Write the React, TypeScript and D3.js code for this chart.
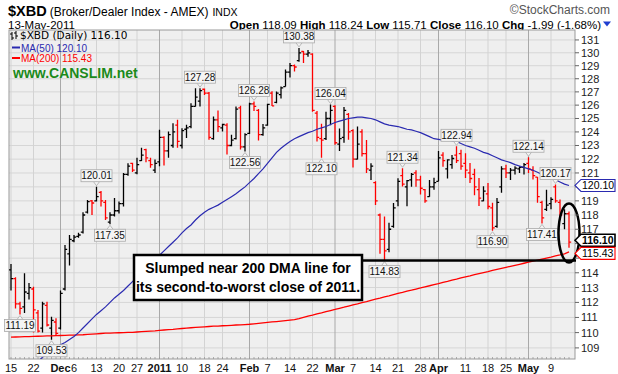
import React from 'react';
import * as d3 from 'd3';

// trading days shown on the chart
const dates = [
  '2010-11-15', '2010-11-16', '2010-11-17', '2010-11-18', '2010-11-19', '2010-11-22', '2010-11-23', '2010-11-24', '2010-11-26', '2010-11-29', '2010-11-30',
  '2010-12-01', '2010-12-02', '2010-12-03', '2010-12-06', '2010-12-07', '2010-12-08', '2010-12-09', '2010-12-10', '2010-12-13', '2010-12-14', '2010-12-15',
  '2010-12-16', '2010-12-17', '2010-12-20', '2010-12-21', '2010-12-22', '2010-12-23', '2010-12-27', '2010-12-28', '2010-12-29', '2010-12-30', '2010-12-31',
  '2011-01-03', '2011-01-04', '2011-01-05', '2011-01-06', '2011-01-07', '2011-01-10', '2011-01-11', '2011-01-12', '2011-01-13', '2011-01-14',
  '2011-01-18', '2011-01-19', '2011-01-20', '2011-01-21', '2011-01-24', '2011-01-25', '2011-01-26', '2011-01-27', '2011-01-28', '2011-01-31',
  '2011-02-01', '2011-02-02', '2011-02-03', '2011-02-04', '2011-02-07', '2011-02-08', '2011-02-09', '2011-02-10', '2011-02-11', '2011-02-14',
  '2011-02-15', '2011-02-16', '2011-02-17', '2011-02-18', '2011-02-22', '2011-02-23', '2011-02-24', '2011-02-25', '2011-02-28',
  '2011-03-01', '2011-03-02', '2011-03-03', '2011-03-04', '2011-03-07', '2011-03-08', '2011-03-09', '2011-03-10', '2011-03-11', '2011-03-14',
  '2011-03-15', '2011-03-16', '2011-03-17', '2011-03-18', '2011-03-21', '2011-03-22', '2011-03-23', '2011-03-24', '2011-03-25', '2011-03-28',
  '2011-03-29', '2011-03-30', '2011-03-31',
  '2011-04-01', '2011-04-04', '2011-04-05', '2011-04-06', '2011-04-07', '2011-04-08', '2011-04-11', '2011-04-12', '2011-04-13', '2011-04-14',
  '2011-04-15', '2011-04-18', '2011-04-19', '2011-04-20', '2011-04-21', '2011-04-25', '2011-04-26', '2011-04-27', '2011-04-28', '2011-04-29',
  '2011-05-02', '2011-05-03', '2011-05-04', '2011-05-05', '2011-05-06', '2011-05-09', '2011-05-10', '2011-05-11', '2011-05-12', '2011-05-13',
];

const opens = [
  114.2, 113.6, 111.9, 111.7, 112.6, 112.9, 111.3, 110.3, 111.8, 110.3, 110.7,
  110.3, 112.9, 115.3, 116.2, 116.5, 116.8, 118.2, 119.0, 119.0, 119.6, 118.9,
  117.5, 118.0, 118.3, 118.8, 120.9, 121.7, 121.0, 121.9, 122.7, 121.9, 121.2,
  121.8, 123.6, 122.6, 123.0, 124.5, 123.0, 124.2, 124.4, 125.9, 126.3,
  127.2, 126.9, 123.5, 124.9, 124.3, 124.5, 123.0, 123.5, 125.8, 122.9,
  123.9, 126.1, 125.6, 123.8, 124.5, 126.9, 126.2, 126.8, 127.4, 128.5,
  129.0, 129.4, 130.1, 129.9, 129.9, 125.4, 123.5, 123.5, 125.0,
  125.9, 123.1, 123.6, 125.3, 124.1, 122.0, 124.0, 122.4, 121.2, 120.3,
  118.0, 116.3, 115.6, 117.2, 119.0, 120.8, 120.0, 120.5, 121.0, 120.5,
  119.8, 119.3, 120.0,
  120.4, 122.3, 121.3, 121.6, 122.3, 122.4, 121.7, 121.0, 120.9, 119.8,
  119.0, 119.5, 118.5, 117.2, 120.0, 121.3, 121.0, 121.2, 121.3, 121.4,
  121.7, 121.2, 120.7, 118.9, 118.4, 118.8, 120.0, 118.9, 117.4, 118.09,
];

const highs = [
  114.6, 113.7, 112.05, 113.97, 113.3, 113.05, 111.5, 112.05, 112.05, 111.05, 110.95,
  112.8, 115.9, 116.6, 116.6, 116.75, 118.2, 119.07, 119.07, 120.01, 119.7, 119.07,
  118.2, 119.2, 118.96, 121.0, 121.7, 121.74, 122.1, 122.83, 122.76, 122.1, 121.98,
  124.16, 123.68, 124.04, 124.65, 124.9, 124.28, 124.53, 126.14, 127.27, 127.28,
  127.25, 127.0, 125.14, 125.6, 124.6, 124.65, 123.79, 125.89, 125.95, 123.9,
  126.18, 126.28, 125.7, 124.58, 126.1, 127.05, 127.02, 127.4, 128.7, 129.2,
  129.1, 130.38, 130.14, 130.22, 129.96, 125.56, 124.6, 125.5, 126.04,
  126.0, 124.25, 125.85, 125.4, 124.2, 124.4, 124.2, 123.4, 121.7, 120.4,
  118.1, 117.9, 117.45, 118.85, 120.61, 121.34, 120.49, 121.0, 121.2, 120.8,
  119.85, 120.5, 120.65,
  122.6, 122.5, 122.0, 122.3, 122.94, 122.68, 122.44, 121.72, 121.3, 120.64,
  120.05, 120.28, 118.86, 119.2, 121.48, 121.6, 121.36, 121.48, 121.48, 121.72,
  122.14, 121.48, 120.7, 119.0, 119.8, 119.25, 120.17, 119.1, 118.4, 118.24,
];

const lows = [
  112.8, 111.6, 111.19, 111.3, 112.2, 110.0, 110.0, 110.0, 110.4, 109.53, 109.85,
  110.2, 112.8, 114.5, 116.1, 116.4, 116.7, 118.1, 118.0, 118.96, 118.6, 117.65,
  117.35, 117.9, 118.1, 118.6, 120.8, 121.06, 120.9, 121.86, 121.78, 121.37, 121.0,
  121.49, 121.54, 122.1, 122.83, 122.83, 122.78, 123.55, 124.28, 125.89, 125.89,
  126.77, 123.43, 123.43, 124.0, 124.04, 122.34, 122.95, 123.44, 122.71, 122.56,
  123.85, 125.56, 123.36, 123.72, 124.46, 125.93, 126.14, 126.5, 127.4, 128.1,
  128.55, 129.3, 129.2, 129.7, 125.5, 123.3, 122.1, 123.4, 124.5,
  123.06, 122.6, 123.2, 123.42, 121.4, 121.97, 122.2, 121.0, 120.5, 118.7,
  115.3, 114.83, 115.4, 117.11, 118.61, 120.02, 118.61, 120.0, 120.0, 119.46,
  118.87, 119.3, 119.8,
  120.4, 121.45, 120.6, 121.3, 121.72, 121.24, 120.64, 120.28, 119.4, 118.63,
  118.98, 118.4, 116.9, 117.1, 119.57, 120.64, 120.5, 120.88, 121.0, 120.88,
  121.0, 120.52, 118.86, 117.41, 118.28, 118.4, 118.86, 117.93, 117.0, 115.71,
];

const closes = [
  113.6, 111.9, 111.6, 112.7, 113.0, 111.5, 110.1, 111.9, 110.5, 110.8, 109.95,
  112.6, 115.6, 116.3, 116.45, 116.6, 118.0, 118.95, 118.85, 119.3, 119.0, 117.8,
  118.0, 118.3, 118.8, 120.9, 121.5, 121.2, 121.6, 122.3, 122.1, 121.6, 121.7,
  123.6, 122.6, 123.8, 124.0, 123.3, 124.1, 124.3, 125.9, 126.6, 127.1,
  126.9, 123.6, 124.9, 124.4, 124.55, 123.0, 123.4, 125.7, 122.9, 123.8,
  126.1, 125.9, 123.8, 124.3, 126.05, 125.95, 126.9, 127.3, 128.5, 129.0,
  128.9, 130.0, 129.9, 130.0, 125.6, 123.6, 123.4, 125.0, 125.6,
  123.2, 123.5, 125.6, 124.0, 122.0, 123.1, 122.4, 121.3, 121.5, 119.0,
  116.3, 115.5, 117.0, 118.5, 120.4, 120.2, 120.45, 120.9, 120.5, 119.9,
  119.0, 120.0, 120.3,
  122.1, 121.9, 121.95, 122.05, 121.9, 121.5, 121.2, 120.6, 120.0, 119.2,
  119.7, 118.6, 117.1, 118.9, 121.3, 121.0, 121.2, 121.35, 121.4, 121.6,
  121.3, 120.8, 119.3, 117.8, 118.7, 119.1, 119.0, 118.0, 118.09, 116.10,
];

// moving averages (null where the line is below the plot)
const ma50 = [
  null, null, null, null, null, null, 108.1, 108.4, 108.6, 108.8, 109.0,
  109.2, 109.35, 109.55, 109.75, 110.0, 110.3, 110.6, 110.9, 111.2, 111.45, 111.7,
  112.0, 112.3, 112.55, 112.8, 113.1, 113.4, 113.7, 114.0, 114.3, 114.6, 114.9,
  115.2, 115.5, 115.8, 116.1, 116.4, 116.75, 117.05, 117.3, 117.65, 117.95,
  118.2, 118.4, 118.55, 118.7, 118.9, 119.1, 119.3, 119.5, 119.75, 120.0,
  120.3, 120.6, 120.95, 121.3, 121.7, 122.1, 122.5, 122.8, 123.05, 123.3,
  123.5, 123.65, 123.8, 123.95, 124.05, 124.2, 124.3, 124.4, 124.55,
  124.7, 124.8, 124.9, 125.0, 125.05, 125.1, 125.1, 125.05, 125.0, 124.9,
  124.75, 124.6, 124.5, 124.45, 124.4, 124.3, 124.2, 124.15, 124.05, 123.95,
  123.8, 123.65, 123.5,
  123.45, 123.4, 123.4, 123.35, 123.3, 123.15, 123.0, 122.9, 122.8, 122.65,
  122.5, 122.4, 122.25, 122.1, 121.95, 121.85, 121.75, 121.6, 121.5, 121.4,
  121.3, 121.2, 121.05, 120.9, 120.75, 120.65, 120.5, 120.35, 120.2, 120.1,
];

const ma200 = [
  109.70, 109.71, 109.72, 109.73, 109.74, 109.75, 109.76, 109.77, 109.78, 109.79, 109.80,
  109.81, 109.82, 109.83, 109.84, 109.85, 109.86, 109.88, 109.90, 109.92, 109.94, 109.96,
  109.97, 109.98, 109.99, 110.00, 110.01, 110.02, 110.04, 110.06, 110.08, 110.10, 110.12,
  110.15, 110.17, 110.19, 110.21, 110.24, 110.27, 110.30, 110.32, 110.34, 110.36,
  110.38, 110.40, 110.42, 110.43, 110.45, 110.46, 110.48, 110.50, 110.51, 110.53,
  110.55, 110.58, 110.61, 110.64, 110.67, 110.70, 110.73, 110.76, 110.79, 110.82,
  110.85, 110.92, 111.00, 111.08, 111.15, 111.23, 111.30, 111.38, 111.46,
  111.53, 111.61, 111.68, 111.76, 111.84, 111.91, 111.99, 112.06, 112.14, 112.22,
  112.29, 112.37, 112.44, 112.52, 112.60, 112.67, 112.75, 112.82, 112.90, 112.97,
  113.05, 113.12, 113.20,
  113.27, 113.35, 113.42, 113.50, 113.57, 113.65, 113.72, 113.79, 113.87, 113.94,
  114.01, 114.08, 114.16, 114.23, 114.30, 114.37, 114.44, 114.51, 114.58, 114.65,
  114.72, 114.79, 114.86, 114.93, 115.00, 115.07, 115.15, 115.22, 115.30, 115.43,
];

const xTickDates = [
  '2010-11-15', '2010-11-22', '2010-12-01', '2010-12-06', '2010-12-13', '2010-12-20', '2010-12-27',
  '2011-01-03', '2011-01-10', '2011-01-18', '2011-01-24', '2011-02-01', '2011-02-07', '2011-02-14',
  '2011-02-22', '2011-03-01', '2011-03-07', '2011-03-14', '2011-03-21', '2011-03-28', '2011-04-01',
  '2011-04-11', '2011-04-18', '2011-04-25', '2011-05-02', '2011-05-09',
];
const xTickLabels = [
  '15', '22', 'Dec', '6', '13', '20', '27', '2011', '10', '18', '24', 'Feb', '7', '14',
  '22', 'Mar', '7', '14', '21', '28', 'Apr', '11', '18', '25', 'May', '9',
];
const monthLabels = ['Dec', '2011', 'Feb', 'Mar', 'Apr', 'May'];

const yTicks = [109, 110, 111, 112, 113, 114, 115, 116, 117, 118, 119, 120, 121, 122, 123, 124, 125, 126, 127, 128, 129, 130, 131];
// labels hidden behind the value tags on the right
const coveredTicks = [115, 116, 120];

const highMarkDates = ['2010-12-13', '2011-01-14', '2011-02-02', '2011-02-16', '2011-02-28', '2011-03-22', '2011-04-07', '2011-05-02', '2011-05-10'];
const highMarkValues = [120.01, 127.28, 126.28, 130.38, 126.04, 121.34, 122.94, 122.14, 120.17];
const lowMarkDates = ['2010-11-17', '2010-11-29', '2010-12-16', '2011-01-31', '2011-02-24', '2011-03-16', '2011-04-19', '2011-05-05'];
const lowMarkValues = [111.19, 109.53, 117.35, 122.56, 122.10, 114.83, 116.90, 117.41];

const plot = { l: 9, r: 575, t: 30, b: 359 };
const SANS = '"Liberation Sans", Arial, sans-serif';
const VERD = '"DejaVu Sans", Verdana, sans-serif';

const x = d3.scalePoint<string>().domain(dates).range([11, 569]);
const y = d3.scaleLog().domain([108.28, 131.78]).range([plot.b, plot.t]);

const PriceMark = ({ date, value, above }: { date: string; value: number; above: boolean }) => {
  const cx = x(date) as number;
  const text = value.toFixed(2);
  const w = 31;
  const h = 12;
  const yv = y(value);
  const top = above ? yv - 5 - h : yv + 5;
  const tri = above
    ? `M${cx - 3},${top + h} L${cx},${yv - 1} L${cx + 3},${top + h}`
    : `M${cx - 3},${top} L${cx},${yv + 1} L${cx + 3},${top}`;
  return (
    <g>
      <path d={tri} fill="#f4f4f4" stroke="#aaa" strokeWidth={0.8} />
      <rect x={cx - w / 2} y={top} width={w} height={h} fill="#f4f4f4" stroke="#aaa" strokeWidth={0.8} />
      <text x={cx} y={top + h - 2.5} textAnchor="middle" fontFamily={SANS} fontSize={10} fill="#111">{text}</text>
    </g>
  );
};

const ValueTag = ({ value, yPos, stroke, bold }: { value: number; yPos: number; stroke: string; bold?: boolean }) => (
  <g>
    <path
      d={`M${plot.r},${yPos} L${plot.r + 6},${yPos - 6} L615,${yPos - 6} L615,${yPos + 6} L${plot.r + 6},${yPos + 6} Z`}
      fill="#fff" stroke={stroke} strokeWidth={bold ? 1.6 : 1.1}
    />
    <text x={plot.r + 7} y={yPos + 4} fontFamily={SANS} fontSize={10.5} fontWeight={bold ? 'bold' : 'normal'} fill="#000">
      {value.toFixed(2)}
    </text>
  </g>
);

export default function App() {
  const ma50Line = d3.line<number | null>()
    .defined(d => d !== null)
    .x((_, i) => x(dates[i]) as number)
    .y(d => y(d as number));
  const ma200Line = d3.line<number>()
    .x((_, i) => x(dates[i]) as number)
    .y(d => y(d));

  const tick = 2.2;
  const lowY = y(114.83);

  return (
    <svg width={618} height={374} style={{ position: 'fixed', left: 0, top: 0, background: '#fff' }}>
      <defs>
        <clipPath id="plotClip">
          <rect x={plot.l} y={plot.t} width={plot.r - plot.l} height={plot.b - plot.t} />
        </clipPath>
      </defs>

      {/* header */}
      <text x={8} y={16} fontFamily={SANS} fill="#000">
        <tspan fontSize={14.5} fontWeight="bold">$XBD</tspan>
        <tspan fontSize={12} dx={3}>(Broker/Dealer Index - AMEX)</tspan>
        <tspan fontSize={10.5} dx={4}>INDX</tspan>
      </text>
      <text x={610} y={14} textAnchor="end" fontFamily={SANS} fontSize={12} fill="#555">©StockCharts.com</text>
      <text x={8} y={28.5} fontFamily={SANS} fontSize={11.5} fill="#000">13-May-2011</text>
      <text x={601} y={28.5} textAnchor="end" fontFamily={SANS} fontSize={11.5} fill="#000">
        <tspan fontWeight="bold">Open</tspan><tspan> 118.09 </tspan>
        <tspan fontWeight="bold">High</tspan><tspan> 118.24 </tspan>
        <tspan fontWeight="bold">Low</tspan><tspan> 115.71 </tspan>
        <tspan fontWeight="bold">Close</tspan><tspan> 116.10 </tspan>
        <tspan fontWeight="bold">Chg</tspan><tspan> -1.99 (-1.68%)</tspan>
      </text>
      <path d="M603,21.5 L611,21.5 L607,26.5 Z" fill="#1f3fd0" />

      {/* plot background and grid */}
      <rect x={plot.l} y={plot.t} width={plot.r - plot.l} height={plot.b - plot.t} fill="#efefef" />
      {yTicks.map(v => (
        <line key={`gy${v}`} x1={plot.l} x2={plot.r} y1={y(v)} y2={y(v)} stroke="#d6d6d6" strokeWidth={1} />
      ))}
      {xTickDates.map((d, i) => (
        <line key={`gx${d}`} x1={x(d)} x2={x(d)} y1={plot.t} y2={plot.b}
          stroke={monthLabels.includes(xTickLabels[i]) ? '#a9a9a9' : '#d3d3d3'} strokeWidth={1} />
      ))}
      {dates.map(d => (
        <line key={`mt${d}`} x1={x(d)} x2={x(d)} y1={plot.b - 2} y2={plot.b} stroke="#9a9a9a" strokeWidth={0.8} />
      ))}
      <rect x={plot.l} y={plot.t} width={plot.r - plot.l} height={plot.b - plot.t} fill="none" stroke="#999" strokeWidth={1} />

      {/* OHLC bars */}
      <g clipPath="url(#plotClip)">
        {dates.map((d, i) => {
          const cx = x(d) as number;
          const up = i === 0 || closes[i] >= closes[i - 1];
          return (
            <path key={`b${d}`}
              d={`M${cx},${y(highs[i])} V${y(lows[i])} M${cx - tick},${y(opens[i])} H${cx} M${cx},${y(closes[i])} H${cx + tick}`}
              stroke={up ? '#000' : '#ff0000'} strokeWidth={1.3} fill="none" />
          );
        })}
        <path d={ma200Line(ma200) || ''} fill="none" stroke="#ff0000" strokeWidth={1.3} />
        <path d={ma50Line(ma50) || ''} fill="none" stroke="#2a2ab0" strokeWidth={1.2} />
      </g>

      {/* high / low marks */}
      {highMarkDates.map((d, i) => <PriceMark key={`h${d}`} date={d} value={highMarkValues[i]} above />)}
      {lowMarkDates.map((d, i) => <PriceMark key={`l${d}`} date={d} value={lowMarkValues[i]} above={false} />)}

      {/* legend */}
      <g>
        <path d="M12,32 V40 M10,34 H12 M12,38 H14 M16,31 V39 M14,33 H16 M16,36 H18" stroke="#000" strokeWidth={1} fill="none" />
        <text x={20} y={39} fontFamily={VERD} fontSize={10.5} fill="#000">$XBD (Daily) 116.10</text>
        <line x1={12} x2={20} y1={47.5} y2={47.5} stroke="#2a2ab0" strokeWidth={2} />
        <text x={21} y={51.5} fontFamily={SANS} fontSize={10} fill="#2a2ab0">MA(50) 120.10</text>
        <line x1={12} x2={20} y1={58} y2={58} stroke="#ff0000" strokeWidth={2} />
        <text x={21} y={62} fontFamily={SANS} fontSize={10} fill="#ff0000">MA(200) 115.43</text>
        <text x={13} y={78} fontFamily={SANS} fontSize={14} fontWeight="bold" fill="#1b8a1b">www.CANSLIM.net</text>
      </g>

      {/* annotation */}
      <line x1={362} x2={plot.r + 1} y1={lowY} y2={lowY} stroke="#000" strokeWidth={2.5} />
      <rect x={134} y={255} width={228} height={45} fill="#fff" stroke="#000" strokeWidth={2.5} />
      <text x={248} y={273} textAnchor="middle" fontFamily={SANS} fontSize={14} fontWeight="bold" fill="#000">Slumped near 200 DMA line for</text>
      <text x={248} y={292} textAnchor="middle" fontFamily={SANS} fontSize={14} fontWeight="bold" fill="#000">its second-to-worst close of 2011.</text>
      <ellipse cx={569} cy={233} rx={10.5} ry={29.5} fill="none" stroke="#000" strokeWidth={2.5} />

      {/* right axis */}
      {yTicks.map(v => (
        <g key={`yt${v}`}>
          <line x1={plot.r} x2={plot.r + 4} y1={y(v)} y2={y(v)} stroke="#666" strokeWidth={1} />
          {!coveredTicks.includes(v) && (
            <text x={plot.r + 6} y={y(v) + 4} fontFamily={SANS} fontSize={11} fill="#222">{v}</text>
          )}
        </g>
      ))}
      <ValueTag value={120.1} yPos={y(120.1)} stroke="#2a2ab0" />
      <ValueTag value={116.1} yPos={y(116.1) - 2} stroke="#000" bold />
      <ValueTag value={115.43} yPos={y(115.43) + 1.5} stroke="#ff0000" />

      {/* bottom axis */}
      {xTickDates.map((d, i) => (
        <text key={`xl${d}`} x={x(d)} y={372} textAnchor="middle" fontFamily={SANS} fontSize={11}
          fontWeight={monthLabels.includes(xTickLabels[i]) ? 'bold' : 'normal'} fill="#111">
          {xTickLabels[i]}
        </text>
      ))}
    </svg>
  );
}
